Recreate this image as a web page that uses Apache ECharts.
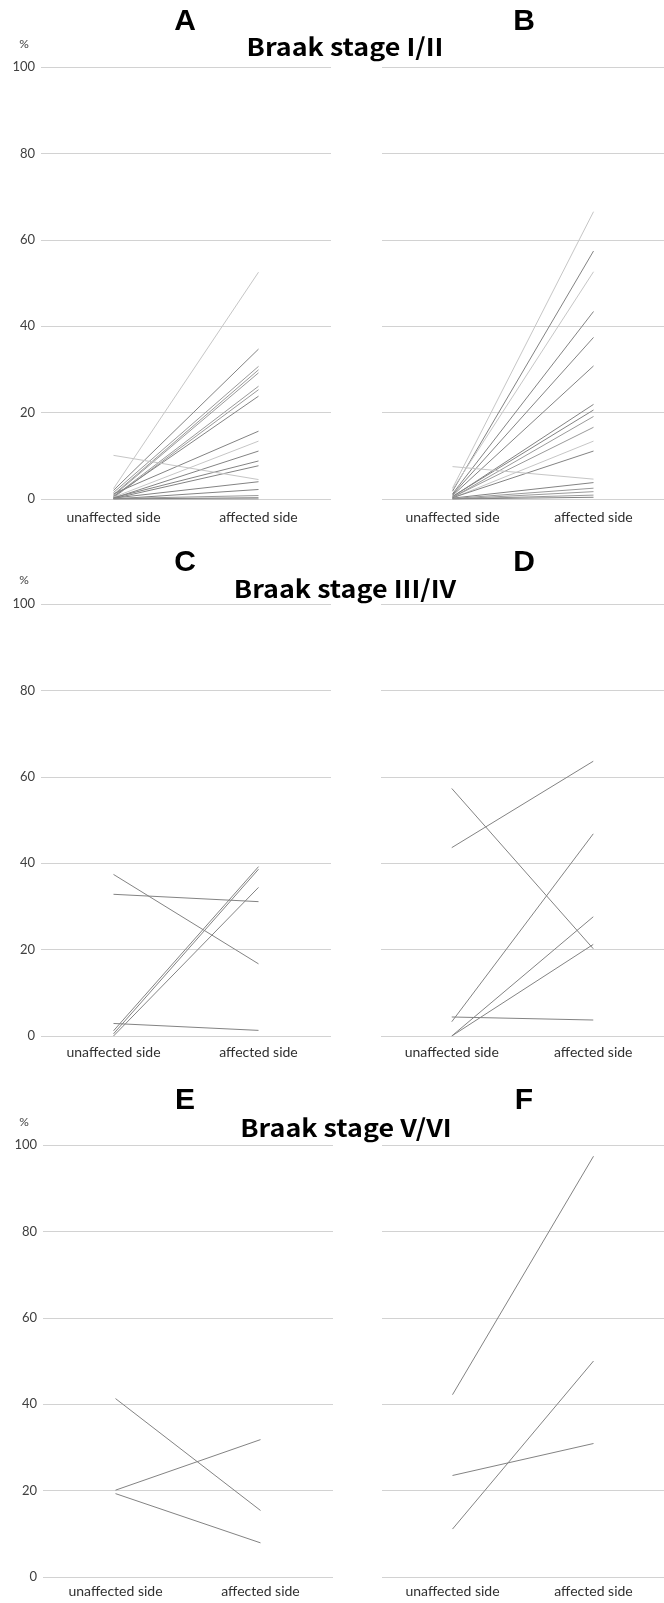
<!DOCTYPE html>
<html>
<head>
<meta charset="utf-8">
<script src="https://cdn.jsdelivr.net/npm/echarts@6/dist/echarts.min.js"></script>
<style>
  html, body { margin: 0; padding: 0; background: #ffffff; }
  #chart { width: 664px; height: 1603px; }
</style>
</head>
<body>
<div id="chart"></div>
<script>
// Paired percentages per case: unaffected side vs affected side
const sides = ['unaffected side', 'affected side'];
const yTicks = [0, 20, 40, 60, 80, 100];
const stageTitles = ['Braak stage I/II', 'Braak stage III/IV', 'Braak stage V/VI'];
const panelLetters = ['A', 'B', 'C', 'D', 'E', 'F'];

// line tone per case: d = dark grey, m = medium grey, l = light grey
const aUnaffected = [2.4, 2.0, 1.5, 1.0, 0.8, 0.5, 0.3, 0.6, 1.2, 0.4, 0.2, 0.3, 0.1, 10.1, 0.2, 0.0, 0.1, 0.0, 0.0];
const aAffected   = [52.5, 34.7, 30.7, 29.9, 29.2, 26.1, 25.3, 23.8, 15.7, 13.4, 11.1, 8.8, 7.7, 4.5, 4.0, 2.2, 0.8, 0.3, 0.0];
const aTone       = ['l', 'd', 'm', 'm', 'm', 'm', 'm', 'd', 'd', 'l', 'd', 'd', 'd', 'l', 'd', 'd', 'm', 'd', 'd'];

const bUnaffected = [2.5, 1.8, 2.2, 1.2, 1.0, 0.8, 0.5, 0.6, 0.3, 0.4, 0.2, 0.3, 7.5, 0.2, 0.1, 0.0, 0.0, 0.0];
const bAffected   = [66.5, 57.4, 52.6, 43.4, 37.4, 30.8, 21.9, 20.6, 19.1, 16.6, 13.4, 11.1, 4.6, 3.8, 2.5, 1.7, 0.9, 0.4];
const bTone       = ['l', 'd', 'l', 'd', 'd', 'd', 'd', 'd', 'm', 'm', 'l', 'd', 'l', 'd', 'm', 'm', 'm', 'd'];

const cUnaffected = [37.4, 32.8, 2.9, 1.2, 0.5, 0.0];
const cAffected   = [16.7, 31.1, 1.3, 39.2, 38.6, 34.4];
const cTone       = ['d', 'd', 'd', 'd', 'd', 'd'];

const dUnaffected = [43.6, 57.3, 3.3, 0.0, 0.0, 4.4];
const dAffected   = [63.6, 20.2, 46.8, 27.6, 21.2, 3.7];
const dTone       = ['d', 'd', 'd', 'd', 'd', 'd'];

const eUnaffected = [41.3, 20.1, 19.3];
const eAffected   = [15.4, 31.8, 7.9];
const eTone       = ['d', 'd', 'd'];

const fUnaffected = [42.2, 11.1, 23.5];
const fAffected   = [97.4, 50.0, 30.9];
const fTone       = ['d', 'd', 'd'];

const panels = [
  { u: aUnaffected, a: aAffected, t: aTone },
  { u: bUnaffected, a: bAffected, t: bTone },
  { u: cUnaffected, a: cAffected, t: cTone },
  { u: dUnaffected, a: dAffected, t: dTone },
  { u: eUnaffected, a: eAffected, t: eTone },
  { u: fUnaffected, a: fAffected, t: fTone }
];

const toneColor = { d: '#838383', m: '#9a9a9a', l: '#c6c6c6' };

// plot boxes, two columns by three rows
const boxes = [
  { left: 41,  top: 67,   labelMargin: 11 },
  { left: 382, top: 67,   labelMargin: 11 },
  { left: 41,  top: 604,  labelMargin: 9 },
  { left: 381, top: 604,  labelMargin: 9 },
  { left: 43,  top: 1145, labelMargin: 7 },
  { left: 382, top: 1145, labelMargin: 7 }
];

const gridLineColor = '#d2d2d2';
const labelFont = 'Lato, "Open Sans", sans-serif';

const grids = boxes.map(b => ({ left: b.left, top: b.top, width: 290, height: 432, containLabel: false }));

const xAxes = boxes.map((b, i) => ({
  type: 'category',
  gridIndex: i,
  data: sides,
  boundaryGap: true,
  axisLine: { show: false },
  axisTick: { show: false },
  axisLabel: { color: '#303030', fontSize: 14, fontFamily: labelFont, margin: b.labelMargin, interval: 0 }
}));

const yAxes = boxes.map((b, i) => ({
  type: 'value',
  gridIndex: i,
  min: yTicks[0],
  max: yTicks[yTicks.length - 1],
  interval: yTicks[1] - yTicks[0],
  axisLine: { show: false },
  axisTick: { show: false },
  axisLabel: { show: i % 2 === 0, color: '#404040', fontSize: 13, fontFamily: labelFont, margin: 6 },
  splitLine: { show: true, lineStyle: { color: gridLineColor, width: 1 } }
}));

const series = [];
panels.forEach((p, pi) => {
  p.u.forEach((uv, k) => {
    series.push({
      type: 'line',
      xAxisIndex: pi,
      yAxisIndex: pi,
      data: [uv, p.a[k]],
      symbol: 'none',
      silent: true,
      animation: false,
      lineStyle: { color: toneColor[p.t[k]], width: 1 }
    });
  });
});

// panel letters, stage headings and unit marks
const letterPos = [[185, 22], [524, 22], [185, 563], [524, 563], [185, 1101], [524, 1101]];
const stagePos = [[345, 47], [345, 589], [346, 1128]];
const unitPos = [[24, 44], [24, 580], [24, 1122]];

const graphics = [];
panelLetters.forEach((L, i) => {
  graphics.push({
    type: 'text', x: letterPos[i][0], y: letterPos[i][1], silent: true,
    style: { text: L, font: 'bold 30px "Liberation Sans", Arial, sans-serif', fill: '#000000', align: 'center', verticalAlign: 'middle' }
  });
});
stageTitles.forEach((s, i) => {
  graphics.push({
    type: 'text', x: stagePos[i][0], y: stagePos[i][1], silent: true, scaleX: 1.12,
    style: { text: s, font: 'bold 24px "Noto Sans CJK JP", sans-serif', fill: '#000000', align: 'center', verticalAlign: 'middle' }
  });
});
unitPos.forEach(pos => {
  graphics.push({
    type: 'text', x: pos[0], y: pos[1], silent: true,
    style: { text: '%', font: '12px ' + labelFont, fill: '#404040', align: 'center', verticalAlign: 'middle' }
  });
});

const chart = echarts.init(document.getElementById('chart'), null, { renderer: 'canvas' });
chart.setOption({
  backgroundColor: '#ffffff',
  animation: false,
  grid: grids,
  xAxis: xAxes,
  yAxis: yAxes,
  series: series,
  graphic: graphics
});
</script>
</body>
</html>
